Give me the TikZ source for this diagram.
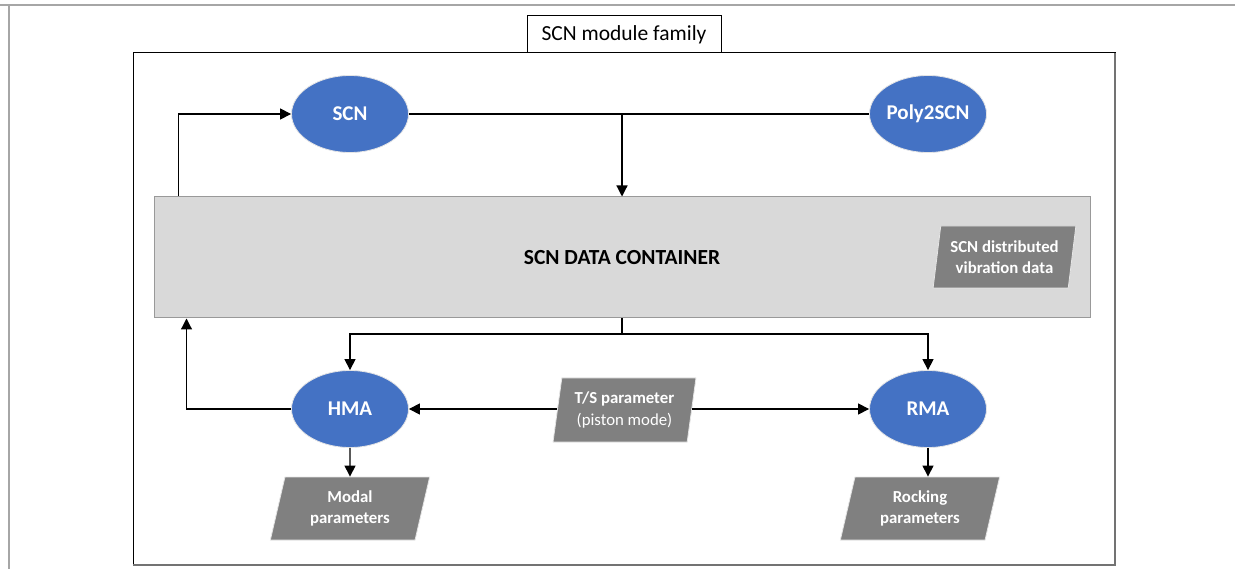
\documentclass[tikz,border=0pt]{standalone}
\usepackage{fontspec}
\setmainfont{Carlito}
\usetikzlibrary{shapes.geometric,arrows.meta,calc}
\definecolor{ellblue}{HTML}{4472C4}
\definecolor{paragray}{HTML}{808080}
\definecolor{contgray}{HTML}{D9D9D9}
\definecolor{pagegray}{HTML}{A6A6A6}
\tikzset{
  ellnode/.style={ellipse,fill=ellblue,draw=white!80!gray,line width=0.8pt,minimum width=117pt,minimum height=77pt,inner sep=0pt,text=white,font=\fontsize{21}{25}\selectfont\bfseries},
  paranode/.style={trapezium,trapezium stretches=true,fill=paragray,draw=white!80!gray,line width=0.8pt,inner sep=0pt,text=white,align=center,font=\fontsize{16.8}{21.5}\selectfont\bfseries},
  arr/.style={draw=black,line width=1.2pt,-{Triangle[length=11pt,width=11pt]}},
  ln/.style={draw=black,line width=1.2pt}
}
\begin{document}
\begin{tikzpicture}[x=1pt,y=-1pt]
\useasboundingbox (0,0) rectangle (1235,569);
% page lines
\draw[pagegray,line width=1.2pt] (0,5) -- (1235,5);
\draw[pagegray,line width=1.2pt] (9,5) -- (9,569);
% frame
\node[draw=black,line width=1pt,minimum width=982pt,minimum height=512pt,inner sep=0pt] (frame) at (624,309) {};
\draw[gray!90!black,line width=1.6pt] (133,565) -- (1115,565) -- (1115,53);
% title
\node[draw=black,fill=white,line width=1pt,minimum width=194pt,minimum height=37pt,inner sep=0pt,font=\fontsize{21.5}{25}\selectfont] (title) at (624,34.5) {SCN module family};
% container
\node[fill=contgray,draw=gray!80,line width=1pt,minimum width=936pt,minimum height=121pt,inner sep=0pt,font=\fontsize{21.5}{25}\selectfont\bfseries] (cont) at (622,257.5) {SCN DATA CONTAINER};
\node[paranode,trapezium left angle=79,trapezium right angle=101,minimum width=143pt,minimum height=62pt] (dist) at (1004.5,257) {SCN distributed\\vibration data};
% ellipses
\node[ellnode] (scn) at (350,114) {SCN};
\node[ellnode] (poly) at (928,114) {Poly2SCN};
\node[ellnode] (hma) at (350,409) {HMA};
\node[ellnode] (rma) at (928,409) {RMA};
% parallelograms
\node[paranode,trapezium left angle=76,trapezium right angle=104,minimum width=160pt,minimum height=63pt] (modal) at (350,508.5) {Modal\\parameters};
\node[paranode,trapezium left angle=76,trapezium right angle=104,minimum width=160pt,minimum height=63pt] (rock) at (920,508.5) {Rocking\\parameters};
\node[paranode,trapezium left angle=79,trapezium right angle=101,minimum width=143pt,minimum height=64pt] (ts) at (624.5,410) {T/S parameter\\\mdseries(piston mode)};
% connectors
\coordinate (split) at (622,334);
\draw[arr] ([xshift=25pt]cont.north west) |- (scn.west);
\draw[ln] (scn.east) -- (poly.west);
\draw[arr] (scn.east -| cont.north) -- (cont.north);
\draw[ln] (cont.south) -- (split);
\draw[arr] (split) -| (hma.north);
\draw[arr] (split) -| (rma.north);
\draw[arr] (hma.west) -| ([xshift=33pt]cont.south west);
\draw[arr] (ts.west |- hma.east) -- (hma.east);
\draw[arr] (ts.east |- rma.west) -- (rma.west);
\draw[arr] (hma.south) -- (modal.north);
\draw[arr] (rma.south) -- (rma.south |- rock.north);
\end{tikzpicture}
\end{document}
